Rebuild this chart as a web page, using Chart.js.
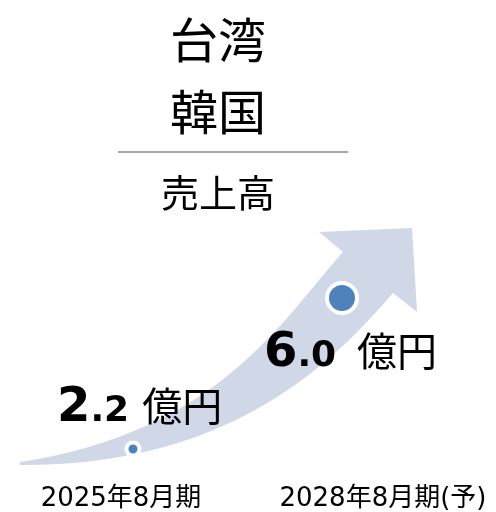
<!DOCTYPE html>
<html lang="ja">
<head>
<meta charset="utf-8">
<title>売上高</title>
<script src="https://cdn.jsdelivr.net/npm/chart.js@4.4.1/dist/chart.umd.min.js"></script>
<style>
  html, body { margin: 0; padding: 0; background: #fff; }
  #wrap { width: 496px; height: 512px; }
</style>
</head>
<body>
<div id="wrap"><canvas id="salesChart"></canvas></div>
<script>
// data
const titleLines = ["台湾", "韓国"];
const metric = "売上高";
const periods = ["2025年8月期", "2028年8月期(予)"];
const sales = [2.2, 6.0];
const unit = "億円";

const FONT = "'DejaVu Sans', 'Noto Sans CJK JP', sans-serif";
const CJK = "'Noto Sans CJK JP', sans-serif";

/* ------------------------------
   growth arrow behind the points
   (path given in the xp / y scale values)
------------------------------- */
const arrowShape = {
  lower: [[-0.541, 1.797], [0.416, 1.772], [0.909, 4.062], [1.244, 6.125]],
  head: [[1.359, 5.647], [1.335, 7.761], [0.890, 7.660], [1.005, 7.157]],
  upper: [[0.718, 5.496], [0.416, 2.628], [-0.541, 1.873]]
};

const growthArrow = {
  id: "growthArrow",
  beforeDatasetsDraw(chart) {
    const xs = chart.scales.xp, ys = chart.scales.y;
    const p = ([x, y]) => [xs.getPixelForValue(x), ys.getPixelForValue(y)];
    const ctx = chart.ctx;
    const lo = arrowShape.lower.map(p);
    const hd = arrowShape.head.map(p);
    const up = arrowShape.upper.map(p);
    ctx.save();
    ctx.beginPath();
    ctx.moveTo(...lo[0]);
    ctx.bezierCurveTo(...lo[1], ...lo[2], ...lo[3]);
    hd.forEach(pt => ctx.lineTo(...pt));
    ctx.bezierCurveTo(...up[0], ...up[1], ...up[2]);
    ctx.closePath();
    ctx.fillStyle = "#d0d8e8";
    ctx.fill();
    ctx.restore();
  }
};

/* ------------------------------
   value labels "2.2 億円"
------------------------------- */
const valueLabels = {
  id: "valueLabels",
  afterDatasetsDraw(chart, args, opts) {
    const ctx = chart.ctx;
    chart.getDatasetMeta(0).data.forEach((pt, i) => {
      const [intPart, decPart] = sales[i].toFixed(1).split(".");
      let x = pt.x + opts.offsets[i][0];
      const y = pt.y + opts.offsets[i][1];
      ctx.save();
      ctx.fillStyle = "#000";
      ctx.textAlign = "left";
      ctx.textBaseline = "alphabetic";
      ctx.font = "bold 48px " + FONT;
      ctx.fillText(intPart, x, y);
      x += ctx.measureText(intPart).width;
      ctx.font = "bold 36px " + FONT;
      ctx.fillText("." + decPart, x, y);
      x += ctx.measureText("." + decPart).width + opts.gaps[i];
      ctx.font = "40px " + CJK;
      ctx.fillText(unit, x, y);
      ctx.restore();
    });
  }
};

/* ------------------------------
   grey rule between title and subtitle
------------------------------- */
const titleRule = {
  id: "titleRule",
  afterDraw(chart) {
    const ctx = chart.ctx;
    const tb = chart.titleBlock;
    const y = tb.bottom + 4;
    const cx = (tb.left + tb.right) / 2 + 15;
    ctx.save();
    ctx.strokeStyle = "#a6a6a6";
    ctx.lineWidth = 2;
    ctx.beginPath();
    ctx.moveTo(cx - 115, y);
    ctx.lineTo(cx + 115, y);
    ctx.stroke();
    ctx.restore();
  }
};

new Chart(document.getElementById("salesChart"), {
  type: "scatter",
  data: {
    datasets: [{
      label: metric,
      data: sales.map((v, i) => ({ x: i, y: v })),
      xAxisID: "xp",
      yAxisID: "y",
      backgroundColor: "#4f81bd",
      borderColor: "#ffffff",
      borderWidth: 4,
      pointRadius: [6.5, 15],
      clip: false
    }]
  },
  options: {
    responsive: true,
    maintainAspectRatio: false,
    animation: false,
    events: [],
    layout: { autoPadding: false, padding: { left: 0, top: 0, bottom: 0, right: 60 } },
    plugins: {
      legend: { display: false },
      tooltip: { enabled: false },
      title: {
        display: true,
        text: titleLines,
        color: "#000",
        font: { family: CJK, size: 48, weight: "normal", lineHeight: 72 / 48 },
        padding: { top: 4, bottom: 0 }
      },
      subtitle: {
        display: true,
        text: metric,
        color: "#000",
        font: { family: CJK, size: 38, weight: "normal", lineHeight: 43.2 / 38 },
        padding: { top: 23, bottom: 0 }
      },
      valueLabels: { offsets: [[-76, -28], [-78, 68]], gaps: [13, 21] }
    },
    scales: {
      x: {
        type: "linear",
        position: "bottom",
        min: -0.4618,
        max: 1.2023,
        grid: { display: false, drawTicks: false },
        border: { display: false },
        afterBuildTicks: scale => { scale.ticks = periods.map((_, i) => ({ value: i })); },
        afterFit: scale => { scale.height = 38; scale.paddingLeft = 0; scale.paddingRight = 0; },
        ticks: {
          autoSkip: false,
          maxRotation: 0,
          padding: 10,
          color: "#000",
          font: { family: FONT, size: 26 },
          callback: v => periods[v] ?? ""
        }
      },
      xp: { axis: "x", type: "linear", display: false, min: -0.6364, max: 1.4498 },
      y: { type: "linear", display: false, min: 1.571, max: 8.109 }
    }
  },
  plugins: [growthArrow, valueLabels, titleRule]
});
</script>
</body>
</html>
